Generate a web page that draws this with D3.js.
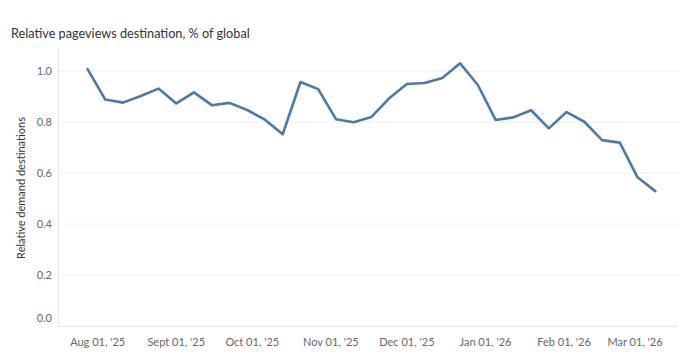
<!DOCTYPE html>
<html><head><meta charset="utf-8">
<script src="https://cdn.jsdelivr.net/npm/d3@7"></script>
<style>
html,body{margin:0;padding:0;background:#fff;}
svg text{font-family:"Lato","Noto Sans",sans-serif;}
</style></head>
<body><svg id="c" width="678" height="355"></svg>
<script>
const weekStart = "2025-07-28";
const values = [1.007,0.888,0.876,0.902,0.931,0.873,0.916,0.866,0.875,0.847,0.809,0.752,0.957,0.929,0.811,0.799,0.820,0.893,0.949,0.953,0.973,1.030,0.945,0.808,0.818,0.846,0.775,0.839,0.801,0.729,0.719,0.583,0.529];
const yTicks = [0,0.2,0.4,0.6,0.8,1.0];
const xTickDates = ["2025-08-01","2025-09-01","2025-10-01","2025-11-01","2025-12-01","2026-01-01","2026-02-01","2026-03-01"];
const xTickLabels = ["Aug 01, '25","Sept 01, '25","Oct 01, '25","Nov 01, '25","Dec 01, '25","Jan 01, '26","Feb 01, '26","Mar 01, '26"];
const title = "Relative pageviews destination, % of global";
const yTitle = "Relative demand destinations";

(function(){
const parse = d3.utcParse("%Y-%m-%d");
const start = parse(weekStart);
const data = values.map((v,i)=>({date:d3.utcDay.offset(start,7*i), value:v}));

const svg = d3.select("#c");
const mL=58, mR=678, mT=48, mB=326;

const x = d3.scaleUtc().domain([parse(xTickDates[0]), parse(xTickDates[7])]).range([97.7,635]);
const y = d3.scaleLinear().domain([0,1]).range([mB,71]);

svg.append("g").selectAll("line").data(yTicks.filter(d=>d>0)).join("line")
  .attr("x1",mL).attr("x2",mR).attr("y1",d=>y(d)).attr("y2",d=>y(d))
  .attr("stroke","#f0f0f0").attr("stroke-width",1);
svg.append("line").attr("x1",mL+0.5).attr("x2",mL+0.5).attr("y1",mT).attr("y2",mB).attr("stroke","#e6e6e6");
svg.append("line").attr("x1",mL).attr("x2",mR).attr("y1",mB+0.5).attr("y2",mB+0.5).attr("stroke","#e6e6e6");

svg.append("g").selectAll("text").data(yTicks).join("text")
  .attr("x",52).attr("y",d=>d===0? y(d)-8 : y(d))
  .attr("dy","0.35em").attr("text-anchor","end")
  .attr("font-size",11).attr("fill","#666")
  .text(d=>d3.format(".1f")(d));

svg.append("g").selectAll("text").data(xTickDates).join("text")
  .attr("x",d=>x(parse(d))).attr("y",346)
  .attr("text-anchor","middle").attr("font-size",11).attr("fill","#666")
  .text((d,i)=>xTickLabels[i]);

svg.append("text").attr("x",11).attr("y",38).attr("font-size",12.7).attr("fill","#333").text(title);
svg.append("text").attr("transform","translate(25,188) rotate(-90)").attr("text-anchor","middle")
  .attr("font-size",11).attr("fill","#333").text(yTitle);

svg.append("path").datum(data)
  .attr("fill","none").attr("stroke","#4e79a7").attr("stroke-width",2.6)
  .attr("stroke-linejoin","round").attr("stroke-linecap","round")
  .attr("d",d3.line().x(d=>x(d.date)).y(d=>y(d.value)));
})();
</script></body></html>
